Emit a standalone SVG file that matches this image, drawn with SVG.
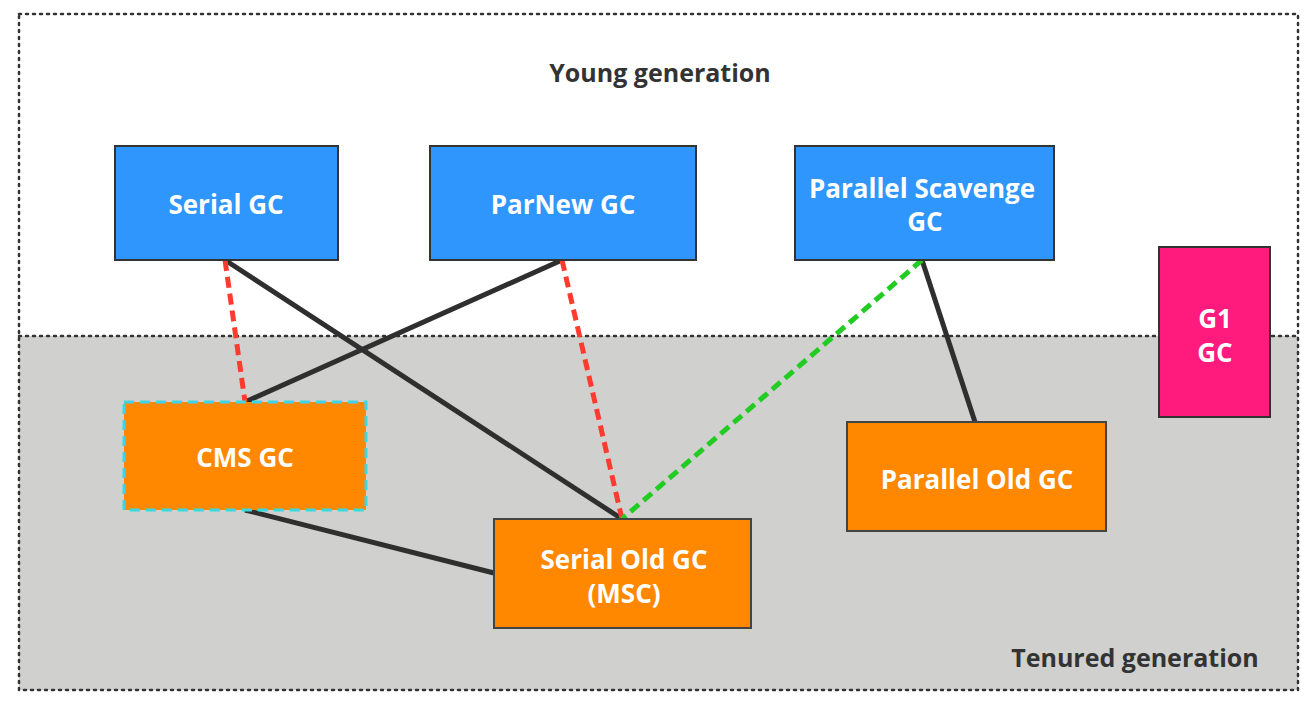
<svg xmlns="http://www.w3.org/2000/svg" width="1310" height="704" viewBox="0 0 1310 704">
<style>
.lbl{font-family:"Open Sans","Liberation Sans",sans-serif;font-weight:bold;font-size:26px;fill:#ffffff;text-anchor:middle}
.gen{font-family:"Open Sans","Liberation Sans",sans-serif;font-weight:bold;font-size:25px;fill:#333333;text-anchor:middle}
.blue{fill:#2e96fd;stroke:#333;stroke-width:2}
.orange{fill:#ff8800;stroke:#444;stroke-width:2}
.solid{stroke:#2f2f2f;stroke-width:5;fill:none}
.red{stroke:#ff3b2f;stroke-width:5;stroke-dasharray:11 6;fill:none}
.green{stroke:#22cc22;stroke-width:5;stroke-dasharray:11 6;fill:none}
.dot{stroke:#333;stroke-width:2.5;stroke-dasharray:2 5;stroke-linecap:round;fill:none}
</style>
<rect width="1310" height="704" fill="#ffffff"/>
<g id="regions">
<rect x="19" y="336" width="1279" height="354" fill="#d0d0ce"/>
<rect class="dot" x="19" y="14" width="1279" height="676"/>
<line class="dot" x1="19" y1="336" x2="1298" y2="336"/>
<text class="gen" x="660" y="82">Young generation</text>
<text class="gen" x="1135" y="667">Tenured generation</text>
</g>
<g id="connectors">
<line class="solid" x1="225" y1="260" x2="622" y2="519"/>
<line class="solid" x1="562" y1="260" x2="245" y2="402"/>
<line class="solid" x1="922" y1="260" x2="975" y2="422"/>
<line class="solid" x1="245" y1="510" x2="494" y2="573"/>
<line class="red" x1="225" y1="260" x2="245" y2="402"/>
<line class="red" x1="562" y1="260" x2="622" y2="519"/>
<line class="green" x1="922" y1="260" x2="622" y2="519"/>
</g>
<g id="serial-gc"><rect class="blue" x="115" y="146" width="223" height="114"/><text class="lbl" x="226" y="214">Serial GC</text></g>
<g id="parnew-gc"><rect class="blue" x="430" y="146" width="266" height="114"/><text class="lbl" x="563" y="214">ParNew GC</text></g>
<g id="parallel-scavenge-gc"><rect class="blue" x="795" y="146" width="259" height="114"/><text class="lbl" x="922" y="198">Parallel Scavenge</text><text class="lbl" x="925" y="231">GC</text></g>
<g id="g1-gc"><rect x="1159" y="247" width="111" height="170" fill="#ff1b7e" stroke="#333" stroke-width="2"/><text class="lbl" x="1215" y="328">G1</text><text class="lbl" x="1215" y="362">GC</text></g>
<g id="cms-gc"><rect x="124" y="402" width="242" height="108" fill="#ff8800" stroke="#3dd6e6" stroke-width="3" stroke-dasharray="10 6"/><text class="lbl" x="245" y="467">CMS GC</text></g>
<g id="parallel-old-gc"><rect class="orange" x="847" y="422" width="259" height="109"/><text class="lbl" x="977" y="489">Parallel Old GC</text></g>
<g id="serial-old-gc"><rect class="orange" x="494" y="519" width="257" height="109"/><text class="lbl" x="624" y="569">Serial Old GC</text><text class="lbl" x="624" y="603">(MSC)</text></g>
</svg>
